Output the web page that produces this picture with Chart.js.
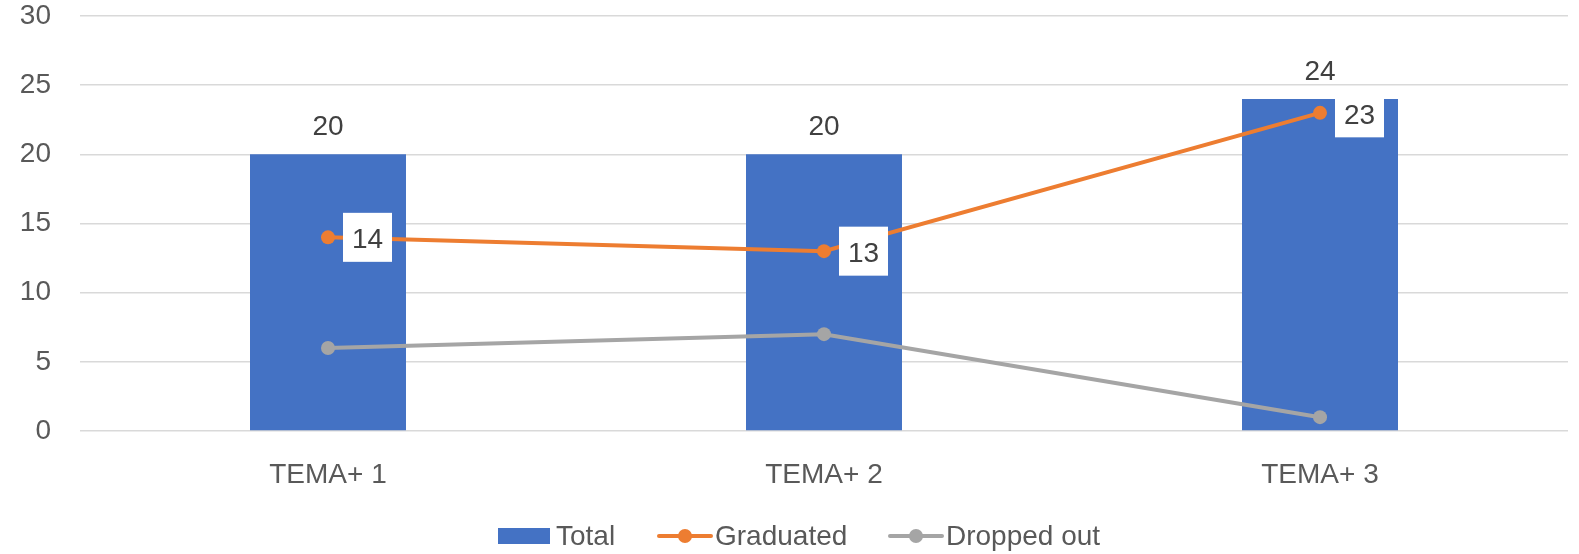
<!DOCTYPE html>
<html>
<head>
<meta charset="utf-8">
<script src="https://cdn.jsdelivr.net/npm/chart.js@4.4.0/dist/chart.umd.min.js"></script>
<style>
  html, body { margin: 0; padding: 0; background: #ffffff; }
  #wrap { width: 1579px; height: 554px; position: relative; }
</style>
</head>
<body>
<div id="wrap"><canvas id="c" width="1579" height="554"></canvas></div>
<script>
const categories = ['TEMA+ 1', 'TEMA+ 2', 'TEMA+ 3'];
const totalValues = [20, 20, 24];
const graduatedValues = [14, 13, 23];
const droppedValues = [6, 7, 1];
const yTicks = [0, 5, 10, 15, 20, 25, 30];
const seriesNames = ['Total', 'Graduated', 'Dropped out'];

const FONT = "'Liberation Sans', Arial, sans-serif";
const BLUE = '#4472C4', ORANGE = '#ED7D31', GRAY = '#A5A5A5';

const labelPlugin = {
  id: 'labels',
  afterDatasetsDraw(chart) {
    const ctx = chart.ctx;
    ctx.save();
    ctx.font = '28px ' + FONT;
    ctx.textAlign = 'center';
    ctx.textBaseline = 'alphabetic';
    chart.getDatasetMeta(0).data.forEach((el, i) => {
      ctx.fillStyle = '#404040';
      ctx.fillText(String(totalValues[i]), el.x, el.y - 19);
    });
    chart.getDatasetMeta(1).data.forEach((el, i) => {
      const bx = el.x + 15, by = el.y - 24.5;
      ctx.fillStyle = '#ffffff';
      ctx.fillRect(bx, by, 49, 49);
      ctx.fillStyle = '#404040';
      ctx.fillText(String(graduatedValues[i]), bx + 24.5, el.y + 11);
    });
    ctx.restore();
  },
  afterDraw(chart) {
    const ctx = chart.ctx;
    ctx.save();
    ctx.font = '28px ' + FONT;
    ctx.textAlign = 'left';
    ctx.textBaseline = 'alphabetic';
    const base = 545, mid = 536;
    ctx.fillStyle = BLUE;
    ctx.fillRect(498, 528, 52, 16);
    ctx.fillStyle = '#595959';
    ctx.fillText(seriesNames[0], 556, base);
    const drawLineKey = (x0, x1, color) => {
      ctx.strokeStyle = color; ctx.lineWidth = 4; ctx.lineCap = 'round';
      ctx.beginPath(); ctx.moveTo(x0, mid); ctx.lineTo(x1, mid); ctx.stroke();
      ctx.fillStyle = color;
      ctx.beginPath(); ctx.arc((x0 + x1) / 2, mid, 7, 0, Math.PI * 2); ctx.fill();
    };
    drawLineKey(659, 711, ORANGE);
    ctx.fillStyle = '#595959';
    ctx.fillText(seriesNames[1], 715, base);
    drawLineKey(890, 942, GRAY);
    ctx.fillStyle = '#595959';
    ctx.fillText(seriesNames[2], 946, base);
    ctx.restore();
  }
};

new Chart(document.getElementById('c'), {
  type: 'bar',
  data: {
    labels: categories,
    datasets: [
      { type: 'bar', label: seriesNames[0], data: totalValues, backgroundColor: BLUE,
        barPercentage: 0.3145, categoryPercentage: 1.0, order: 3 },
      { type: 'line', label: seriesNames[1], data: graduatedValues, borderColor: ORANGE,
        backgroundColor: ORANGE, borderWidth: 4, pointRadius: 7, pointBorderWidth: 0,
        pointBackgroundColor: ORANGE, tension: 0, order: 1 },
      { type: 'line', label: seriesNames[2], data: droppedValues, borderColor: GRAY,
        backgroundColor: GRAY, borderWidth: 4, pointRadius: 7, pointBorderWidth: 0,
        pointBackgroundColor: GRAY, tension: 0, order: 2 }
    ]
  },
  options: {
    responsive: false,
    animation: false,
    devicePixelRatio: 1,
    layout: { padding: { left: 0, right: 11, top: 16, bottom: 0 } },
    plugins: { legend: { display: false }, tooltip: { enabled: false } },
    scales: {
      x: {
        offset: true,
        grid: { display: false, drawTicks: false },
        border: { display: false },
        ticks: { color: '#595959', font: { family: FONT, size: 28 }, padding: 27 },
        afterFit(scale) { scale.height = 123; scale.paddingLeft = 0; scale.paddingRight = 0; }
      },
      y: {
        min: 0, max: 30,
        afterBuildTicks(scale) { scale.ticks = yTicks.map(v => ({ value: v })); },
        grid: { color: '#D9D9D9', lineWidth: 1.5, drawTicks: false },
        border: { display: false },
        ticks: { color: '#595959', font: { family: FONT, size: 28 }, padding: 29 },
        afterFit(scale) { scale.width = 80; scale.paddingTop = 0; scale.paddingBottom = 0; }
      }
    }
  },
  plugins: [labelPlugin]
});
</script>
</body>
</html>
